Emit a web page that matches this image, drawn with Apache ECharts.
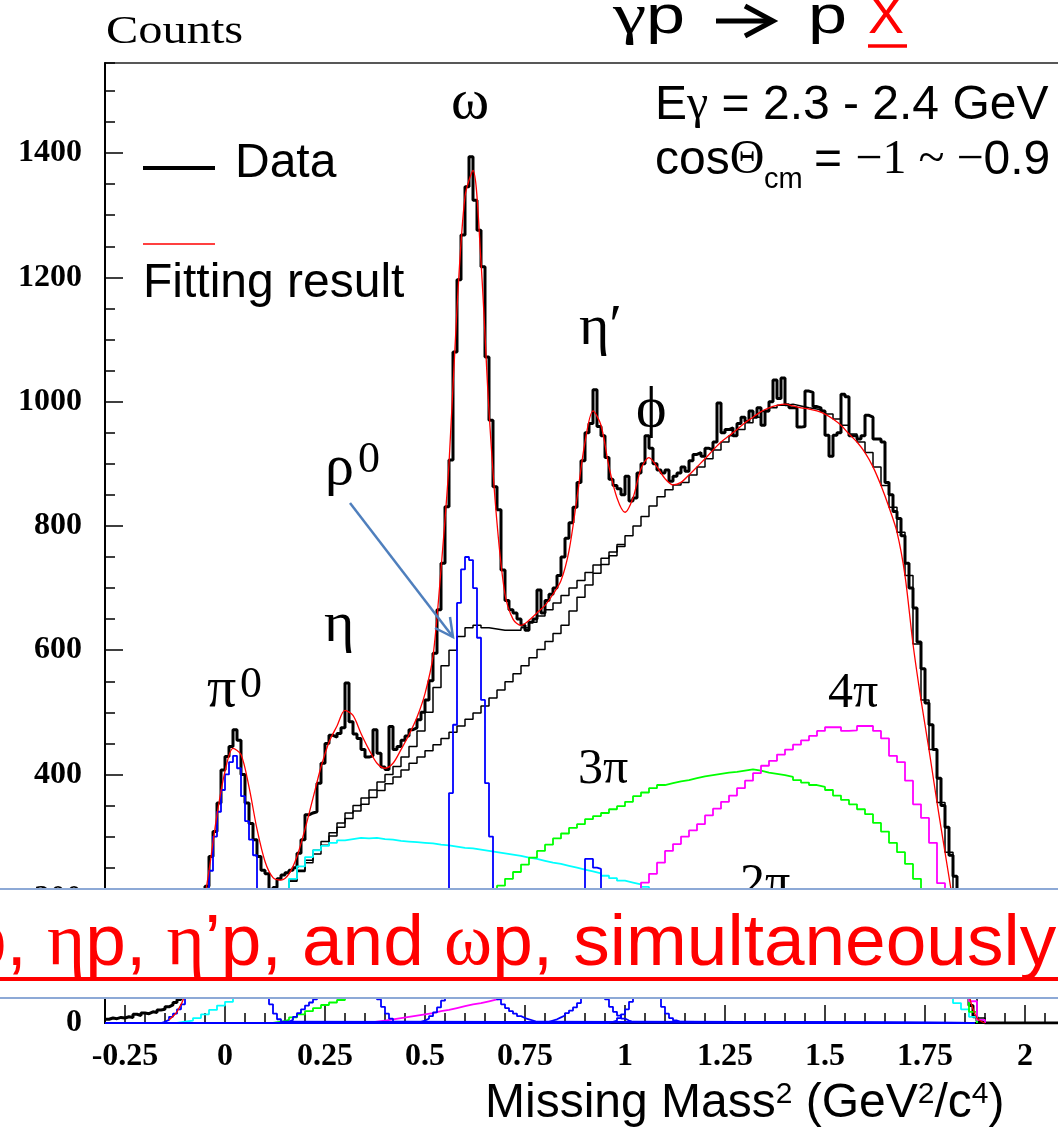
<!DOCTYPE html>
<html><head><meta charset="utf-8">
<script src="https://cdn.jsdelivr.net/npm/echarts@6/dist/echarts.min.js"></script>
<style>html,body{margin:0;padding:0;background:#fff}#c{width:1058px;height:1131px}</style>
</head><body><div id="c"></div>
<script>
// ---------- values ----------
const xMajorTicks = [-0.25, 0, 0.25, 0.5, 0.75, 1, 1.25, 1.5, 1.75, 2];
const yMajorTicks = [0, 200, 400, 600, 800, 1000, 1200, 1400];

// data histogram, bins of 0.01 starting at -0.30
const dataStart = -0.30, dataBin = 0.01;
const dataCounts = [
  6, 8, 7, 9, 8, 10, 9, 14, 12, 16,
  15, 18, 17, 21, 22, 26, 29, 33, 38, 48,
  62, 82, 108, 140, 178, 220, 268, 308, 354, 407,
  429, 445, 472, 455, 400, 354, 321, 295, 268, 246,
  240, 212, 218, 232, 238, 242, 246, 250, 273, 295,
  335, 338, 340, 386, 418, 450, 463, 460, 466, 475,
  547, 485, 465, 458, 440, 428, 430, 472, 434, 412,
  408, 477, 440, 445, 455, 462, 472, 475, 488, 500,
  520, 551, 595, 665, 740, 831, 906, 1080, 1196, 1268,
  1346, 1394, 1324, 1276, 1217, 1072, 970, 863, 826, 729,
  680, 665, 660, 650, 640, 632, 645, 650, 697, 660,
  680, 690, 700, 720, 750, 780, 805, 830, 870, 905,
  950, 965, 1019, 960, 945, 910, 875, 865, 860, 850,
  880, 840, 845, 885, 900, 945, 925, 900, 890, 885,
  890, 872, 880, 885, 895, 888, 905, 915, 918, 912,
  925, 922, 935, 998, 950, 955, 958, 945, 965, 975,
  968, 985, 975, 990, 962, 985, 1000, 1035, 1005, 1038,
  995, 990, 990, 959, 960, 1017, 1015, 992, 990, 985,
  946, 912, 946, 950, 1012, 1008, 945, 945, 940, 945,
  978, 975, 940, 940, 935, 870, 850, 823, 812, 784,
  740, 700, 668, 613, 570, 515, 480, 440, 394, 350,
  315, 270, 236, 180, 120, 60, 28, 10, 3, 0,
  0, 0, 0, 0, 0, 0, 0, 0, 0, 0,
  0, 0, 0, 0, 0, 0, 0, 0, 0, 0,
  0, 0, 0, 0, 0, 0, 0, 0, 0, 0
];

// fit curve (red), sampled every 0.02 from -0.14
const fitStart = -0.14, fitStep = 0.02;
const fitCurve = [
  5, 18, 45, 95, 165, 245, 335, 405, 442, 432,
  380, 312, 260, 234, 230, 240, 268, 312, 362, 412,
  452, 478, 503, 495, 466, 440, 418, 410, 418, 440,
  464, 492, 530, 590, 730, 900, 1150, 1330, 1372, 1225,
  985, 805, 690, 650, 640, 648, 660, 672, 690, 712,
  760, 845, 935, 985, 962, 895, 845, 822, 845, 892,
  910, 895, 876, 866, 870, 882, 895, 908, 922, 935,
  945, 955, 966, 975, 984, 990, 994, 996, 993, 990,
  988, 985, 980, 972, 962, 948, 935, 918, 895, 865,
  830, 790, 720, 610, 520, 440, 355, 275, 195, 115,
  45, 8, 0
];

// peak templates (blue), bins of 0.01
const pi0Start = -0.16;
const pi0Peak = [2, 5, 10, 15, 22, 30, 42, 60, 85, 115, 160, 200, 245, 300, 340, 375,
  400, 420, 430, 410, 365, 325, 295, 270, 210, 120, 60, 30, 15, 6, 2];
const etaStart = 0.15;
const etaPeak = [2, 5, 10, 16, 22, 28, 33, 38, 45, 60, 85, 115, 140, 158, 170, 172,
  162, 142, 118, 95, 76, 60, 48, 38, 26, 15, 7, 2];
const omegaStart = 0.48;
const omegaPeak = [2, 4, 7, 11, 17, 25, 36, 110, 370, 480, 676, 730, 750, 745, 700,
  620, 520, 386, 300, 60, 38, 30, 24, 19, 15, 11, 8, 6, 4, 2];
const etaPrimeStart = 0.80;
const etaPrimePeak = [2, 4, 6, 9, 12, 16, 20, 25, 32, 60, 264, 264, 250, 248, 90, 38,
  26, 18, 12, 7, 4, 2];
const phiStart = 0.96;
const phiPeak = [2, 4, 8, 14, 22, 34, 52, 75, 92, 95, 80, 58, 40, 26, 15, 8, 4, 2];

// multi-pion backgrounds, bins of 0.02
const twoPiStart = -0.12;
const twoPi = [2, 4, 8, 14, 21, 28, 34, 40, 52, 80, 118, 158, 190, 212, 232, 252, 267,
  278, 285, 290, 294, 296, 298, 297, 298, 296, 295, 293, 292, 291, 290, 289, 287, 286,
  284, 282, 281, 279, 277, 275, 273, 271, 269, 266, 264, 261, 258, 256, 253, 250, 247,
  244, 241, 237, 233, 229, 226, 223, 219, 214, 209, 203, 197, 194, 190, 185, 181, 176,
  170, 167, 163, 157, 152, 149, 145, 139, 135, 131, 126, 121, 117, 112, 108, 103, 99,
  94, 90, 85, 80, 75, 70, 65, 60, 55, 50, 45, 40, 32, 22, 10];
const threePiStart = 0.10;
const threePi = [0, 2, 5, 9, 14, 19, 24, 29, 33, 37, 41, 47, 56, 65, 74, 84, 94, 104,
  114, 124, 134, 145, 155, 165, 175, 185, 194, 203, 212, 221, 232, 243, 255, 266, 277,
  287, 297, 305, 314, 320, 328, 333, 338, 344, 349, 356, 365, 371, 378, 383, 386, 389,
  391, 394, 397, 399, 401, 403, 404, 406, 408, 406, 403, 401, 399, 396, 391, 387, 383,
  380, 375, 366, 359, 352, 344, 336, 322, 308, 290, 275, 256, 232, 200, 165, 130, 100,
  70, 45, 18];
const fourPiStart = 0.34;
const fourPi = [0, 2, 4, 6, 8, 10, 12, 14, 16, 19, 21, 24, 27, 30, 32, 35, 38, 40, 44,
  50, 57, 65, 73, 82, 92, 102, 113, 125, 137, 150, 164, 178, 192, 205, 216, 226, 240,
  258, 277, 288, 300, 310, 320, 334, 345, 356, 366, 378, 390, 402, 414, 422, 432, 440,
  448, 455, 462, 470, 476, 476, 470, 471, 478, 478, 470, 458, 430, 420, 390, 352, 330,
  290, 225, 160, 110, 70, 35, 5];

// summed backgrounds (thin black), bins of 0.02 from 0.14
const bgStart = 0.14;
const bgTotal = [215, 228, 244, 258, 272, 286, 301, 315, 329, 341, 352, 363, 374, 385,
  396, 407, 418, 428, 438, 448, 458, 468, 478, 489, 499, 510, 523, 536, 549, 562, 575,
  588, 601, 614, 627, 640, 663, 685, 705, 724, 738, 752, 767, 784, 800, 815, 832, 847,
  858, 866, 870, 882, 895, 908, 922, 935, 945, 955, 966, 975, 984, 990, 994, 996, 993,
  990, 988, 985, 980, 972, 962, 948, 935, 918, 895, 865, 830, 790, 720, 610, 520, 440,
  355, 275, 195, 115, 45, 8, 0];
const bgPlusRho = [215, 230, 246, 262, 278, 292, 306, 322, 338, 350, 362, 375, 388, 400,
  413, 428, 445, 470, 500, 540, 575, 600, 622, 636, 640, 636, 634, 632, 632, 632, 636,
  645, 655, 665, 676, 688, 700, 712, 725, 737, 748, 758, 770];

// ---------- helpers ----------
const r4 = v => Math.round(v * 10000) / 10000;
function hist(start, step, vals, padFrom, padTo) {
  const pts = [];
  if (padFrom !== undefined) pts.push([padFrom, 0]);
  vals.forEach((v, i) => pts.push([r4(start + i * step), v]));
  const end = r4(start + vals.length * step);
  if (padTo !== undefined) { pts.push([end, 0]); if (padTo > end) pts.push([padTo, 0]); }
  else pts.push([end, vals[vals.length - 1]]);
  return pts;
}
function curve(start, step, vals) { return vals.map((v, i) => [r4(start + i * step), v]); }

const SANS = '"Liberation Sans", Arial, sans-serif';
const SERIF = '"Liberation Serif", "Times New Roman", serif';

function stepSeries(name, pts, color, width) {
  return { name, type: 'line', data: pts, step: 'end', showSymbol: false, symbol: 'none',
    lineStyle: { color, width }, silent: true, animation: false };
}

const series = [
  stepSeries('Data', hist(dataStart, dataBin, dataCounts), '#000', 3),
  stepSeries('bg', hist(bgStart, 0.02, bgTotal), '#000', 1.5),
  stepSeries('bg+rho', hist(bgStart, 0.02, bgPlusRho), '#000', 1.5),
  stepSeries('2pi', hist(twoPiStart, 0.02, twoPi, -0.30, 1.88), '#00FFFF', 1.8),
  stepSeries('3pi', hist(threePiStart, 0.02, threePi, -0.30, 1.88), '#00FF00', 1.8),
  stepSeries('4pi', hist(fourPiStart, 0.02, fourPi, -0.30, 1.90), '#FF00FF', 1.8),
  stepSeries('pi0', hist(pi0Start, 0.01, pi0Peak, -0.30, 1.875), '#0000FF', 1.8),
  stepSeries('eta', hist(etaStart, 0.01, etaPeak, -0.30, 1.875), '#0000FF', 1.8),
  stepSeries('omega', hist(omegaStart, 0.01, omegaPeak, -0.30, 1.875), '#0000FF', 1.8),
  stepSeries('etaprime', hist(etaPrimeStart, 0.01, etaPrimePeak, -0.30, 1.875), '#0000FF', 1.8),
  stepSeries('phi', hist(phiStart, 0.01, phiPeak, -0.30, 1.875), '#0000FF', 1.8),
  { name: 'Fit', type: 'line', data: curve(fitStart, fitStep, fitCurve), smooth: 0.3,
    showSymbol: false, symbol: 'none', lineStyle: { color: '#FF0000', width: 1.3 },
    silent: true, animation: false }
];

// ---------- graphic helpers (annotations) ----------
function T(x, baseline, text, size, family, extra) {
  const k = family === SERIF ? 0.338 : 0.3465;
  return Object.assign({ type: 'text', x, y: baseline - k * size, z: 50,
    style: Object.assign({ text, fontSize: size, fontFamily: family, fill: '#000',
      align: 'left', verticalAlign: 'middle' }, extra && extra.style || {}) },
    extra && extra.el || {});
}
function L(x1, y1, x2, y2, color, w, z) {
  return { type: 'line', z: z || 50, shape: { x1, y1, x2, y2 }, style: { stroke: color, lineWidth: w } };
}
const wide = { el: { scaleX: 1.3, originX: 0, originY: 0 } };
const richSG = (size) => ({ g: { fontFamily: SERIF, fontSize: size, fill: '#000' }, s: { fontFamily: SANS, fontSize: size, fill: '#000' } });

const graphics = [
  // y-axis title
  T(106, 46, 'Counts', 40, SERIF, { el: { scaleX: 1.21, originX: 0, originY: 0 } }),
  // title
  T(613, 37, 'γ', 58, SERIF, wide),
  T(646, 37, 'p', 54, SANS, wide),
  L(716, 21, 768, 21, '#000', 5),
  { type: 'polyline', z: 50, shape: { points: [[745, 6], [773, 21], [745, 36]] }, style: { stroke: '#000', lineWidth: 5, fill: null } },
  T(808, 37, 'p', 54, SANS, wide),
  T(868, 37, 'X', 54, SANS, { style: { fill: '#FF0000' } }),
  L(868, 46, 907, 46, '#FF0000', 3.5),
  // kinematics
  { type: 'text', x: 655, y: 122 - 16.6, z: 50, style: { text: '{s|E}{g|γ}{s| = 2.3 - 2.4 GeV}', verticalAlign: 'middle', rich: richSG(48) } },
  { type: 'text', x: 655, y: 177 - 16.6, z: 50, style: { text: '{s|cos}{g|Θ}', verticalAlign: 'middle', rich: richSG(48) } },
  T(764, 190, 'cm', 29, SANS),
  { type: 'text', x: 814, y: 177 - 16.6, z: 50, style: { text: '{s|= }{g|−1 ~ −}{s|0.9}', verticalAlign: 'middle', rich: richSG(48) } },
  // legend
  L(143, 168, 215, 168, '#000', 4),
  T(235, 180, 'Data', 48, SANS),
  L(143, 244, 215, 244, '#FF0000', 1.5),
  T(143, 300, 'Fitting result', 48, SANS),
  // peak labels
  T(207, 710, 'π', 58, SERIF), T(240, 700, '0', 44, SERIF),
  T(324, 645, 'η', 58, SERIF),
  T(325, 488, 'ρ', 58, SERIF), T(358, 475, '0', 44, SERIF),
  T(451, 122, 'ω', 58, SERIF),
  T(579, 348, 'η′', 58, SERIF),
  T(636, 430, 'ϕ', 58, SERIF),
  T(578, 787, '3π', 50, SERIF),
  T(828, 711, '4π', 50, SERIF),
  T(740, 902, '2π', 50, SERIF),
  // rho arrow
  L(350, 503, 453, 637, '#4F7FBD', 2.5),
  { type: 'polyline', z: 50, shape: { points: [[435, 628], [453, 637], [450, 617]] }, style: { stroke: '#4F7FBD', lineWidth: 2.5, fill: null } },
  // x-axis title
  { type: 'text', x: 485, y: 1120 - 16.6, z: 50, style: {
      text: '{m|Missing Mass}{u|2}{m| (GeV}{u|2}{m|/c}{u|4}{m|)}', verticalAlign: 'middle',
      rich: { m: { fontFamily: SANS, fontSize: 48, lineHeight: 48, fill: '#000' },
              u: { fontFamily: SANS, fontSize: 30, lineHeight: 30, verticalAlign: 'top', fill: '#000' } } } },
  // overlay banner
  { type: 'rect', z: 100, shape: { x: 0, y: 889, width: 1058, height: 109 }, style: { fill: '#fff' } },
  L(0, 889, 1058, 889, '#8DA9D6', 2, 101),
  L(0, 998, 1058, 998, '#8DA9D6', 2, 101),
  { type: 'text', x: 302, y: 970 - 25, z: 102, style: {
      text: '{g|π}{u|0}{s|p, }{g|η}{s|p, }{g|η}{s|’p, }', align: 'right', verticalAlign: 'middle',
      rich: { g: { fontFamily: SERIF, fontSize: 73, fill: '#FF0000' }, s: { fontFamily: SANS, fontSize: 73, fill: '#FF0000' },
              u: { fontFamily: SANS, fontSize: 44, verticalAlign: 'top', fill: '#FF0000' } } } },
  { type: 'text', x: 302, y: 970 - 25, z: 102, style: {
      text: '{s|and }{g|ω}{s|p, simultaneously}', align: 'left', verticalAlign: 'middle',
      rich: { g: { fontFamily: SERIF, fontSize: 73, fill: '#FF0000' }, s: { fontFamily: SANS, fontSize: 73, fill: '#FF0000' } } } },
  L(0, 979, 1058, 979, '#FF0000', 4, 102)
];

const chart = echarts.init(document.getElementById('c'), null, { renderer: 'canvas', width: 1058, height: 1131 });
const axisLine = { show: true, onZero: false, lineStyle: { color: '#000', width: 2 } };
const fmt = v => String(v);
const tickLabel = { fontFamily: SERIF, fontSize: 32, fontWeight: 'bold', color: '#000' };
chart.setOption({
  animation: false,
  backgroundColor: '#fff',
  grid: { left: 105, top: 63, width: 1000, height: 960, show: true, borderColor: '#222', borderWidth: 1.5,
    backgroundColor: 'transparent', containLabel: false, outerBoundsMode: 'none' },
  xAxis: [
    { type: 'value', min: -0.3, max: 2.2, interval: 0.05, axisLine,
      axisTick: { show: true, inside: true, length: 10, lineStyle: { color: '#000', width: 1.5 } },
      axisLabel: { show: false }, splitLine: { show: false } },
    { type: 'value', min: -0.3, max: 2.2, position: 'bottom', axisLine: { show: false, onZero: false },
      axisTick: { show: true, inside: true, length: 18, customValues: xMajorTicks, lineStyle: { color: '#000', width: 1.5 } },
      axisLabel: Object.assign({ show: true, customValues: xMajorTicks, formatter: fmt, margin: 18 }, tickLabel),
      splitLine: { show: false } }
  ],
  yAxis: [
    { type: 'value', min: 0, max: 1545, interval: 50, axisLine,
      axisTick: { show: true, inside: true, length: 10, lineStyle: { color: '#000', width: 1.5 } },
      axisLabel: { show: false }, splitLine: { show: false } },
    { type: 'value', min: 0, max: 1545, position: 'left', axisLine: { show: false, onZero: false },
      axisTick: { show: true, inside: true, length: 18, customValues: yMajorTicks, lineStyle: { color: '#000', width: 1.5 } },
      axisLabel: Object.assign({ show: true, customValues: yMajorTicks, formatter: fmt, margin: 23 }, tickLabel),
      splitLine: { show: false } }
  ],
  series: series.map(s => Object.assign(s, { xAxisIndex: 0, yAxisIndex: 0 })),
  graphic: graphics
});
</script></body></html>
